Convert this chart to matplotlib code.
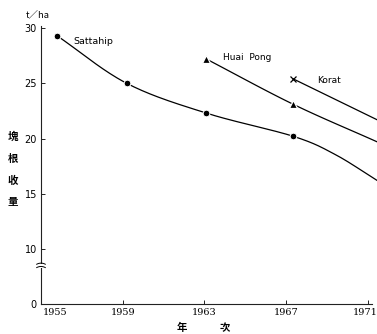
import numpy as np
import matplotlib
matplotlib.use("Agg")
import matplotlib.pyplot as plt
from matplotlib.patches import Rectangle
from matplotlib.transforms import ScaledTranslation

# measured yields (t/ha)
sattahip_years = [1955.8, 1959.2, 1963.1, 1967.35]
sattahip_yield = [29.3, 25.0, 22.3, 20.2]
huai_years = [1963.1, 1967.35]
huai_yield = [27.2, 23.1]
korat_years = [1967.35]
korat_yield = [25.4]

# fitted trend curves
sattahip_trend_years = [1955.8, 1959.2, 1963.1, 1967.35, 1969.4, 1971.45]
sattahip_trend_yield = [29.3, 25.0, 22.3, 20.2, 18.55, 16.2]
huai_trend_years = [1963.1, 1967.35, 1971.45]
huai_trend_yield = [27.2, 23.1, 19.7]
korat_trend_years = [1967.35, 1971.45]
korat_trend_yield = [25.4, 21.7]

year_ticks = [1955, 1959, 1963, 1967, 1971]
yield_ticks = [0, 10, 15, 20, 25, 30]


def smooth(xs, ys, n=30):
    """Catmull-Rom curve through the given points."""
    xs = np.asarray(xs, float)
    ys = np.asarray(ys, float)
    if len(xs) < 3:
        return xs, ys
    px = np.concatenate([[2 * xs[0] - xs[1]], xs, [2 * xs[-1] - xs[-2]]])
    py = np.concatenate([[2 * ys[0] - ys[1]], ys, [2 * ys[-1] - ys[-2]]])
    ox, oy = [], []
    t = np.linspace(0, 1, n, endpoint=False)
    for i in range(1, len(px) - 2):
        for arr, out in ((px, ox), (py, oy)):
            p0, p1, p2, p3 = arr[i - 1], arr[i], arr[i + 1], arr[i + 2]
            out.extend(0.5 * ((2 * p1) + (-p0 + p2) * t
                              + (2 * p0 - 5 * p1 + 4 * p2 - p3) * t ** 2
                              + (-p0 + 3 * p1 - 3 * p2 + p3) * t ** 3))
    ox.append(xs[-1])
    oy.append(ys[-1])
    return np.array(ox), np.array(oy)


# broken y axis: 0-10 compressed into half the height
def fwd(v):
    v = np.asarray(v, float)
    return np.where(v < 10, 5 + v / 2, v)


def inv(u):
    u = np.asarray(u, float)
    return np.where(u < 10, (u - 5) * 2, u)


fig = plt.figure(figsize=(3.77, 3.34), dpi=100)
ax = fig.add_axes([41 / 377, 30 / 334, 331 / 377, 278 / 334])
ax.set_yscale("function", functions=(fwd, inv))
ax.set_xlim(1955, 1971.2)
ax.set_ylim(0, 30.2)

for s in ("top", "right"):
    ax.spines[s].set_visible(False)
for s in ("left", "bottom"):
    ax.spines[s].set_linewidth(0.8)
    ax.spines[s].set_color("#222222")

ax.set_xticks(year_ticks)
ax.set_xticklabels([str(y) for y in year_ticks], fontfamily="DejaVu Serif", fontsize=7)
ax.set_yticks(yield_ticks)
ax.set_yticklabels([str(v) for v in yield_ticks], fontfamily="DejaVu Sans", fontsize=7)
ax.tick_params(axis="both", direction="in", length=3, width=0.7, color="#222222", pad=3)
ax.minorticks_off()

# nudge the end year labels clear of the axis corner and the figure edge
xlabels = ax.get_xticklabels()
xlabels[0].set_transform(xlabels[0].get_transform()
                         + ScaledTranslation(14 / 100, 0, fig.dpi_scale_trans))
xlabels[-1].set_transform(xlabels[-1].get_transform()
                          + ScaledTranslation(-3 / 100, 0, fig.dpi_scale_trans))

line_kw = dict(color="black", lw=0.9, clip_on=False, zorder=2)
for xs, ys in ((sattahip_trend_years, sattahip_trend_yield),
               (huai_trend_years, huai_trend_yield),
               (korat_trend_years, korat_trend_yield)):
    cx, cy = smooth(xs, ys)
    ax.plot(cx, cy, **line_kw)

ax.plot(sattahip_years, sattahip_yield, "o", color="black", ms=4.8,
        mec="white", mew=0.7, zorder=3, clip_on=False)
ax.plot(huai_years, huai_yield, "^", color="black", ms=5.2,
        mec="white", mew=0.9, zorder=3, clip_on=False)
ax.plot(korat_years, korat_yield, "x", color="black", ms=5, mew=0.9,
        zorder=3, clip_on=False)

ax.text(1956.6, 28.75, "Sattahip", fontsize=6.8, va="center", ha="left")
ax.text(1963.9, 27.3, "Huai  Pong", fontsize=6.5, va="center", ha="left")
ax.text(1968.5, 25.3, "Korat", fontsize=6.5, va="center", ha="left")

# axis break marks
ax.add_patch(Rectangle((-0.01, 0.131), 0.02, 0.012, transform=ax.transAxes,
                       facecolor="white", edgecolor="none", zorder=4, clip_on=False))
bx = np.linspace(-0.013, 0.013, 20)
for y0 in (0.143, 0.131):
    ax.plot(bx, y0 + 0.004 * (1 - (bx / 0.013) ** 2), transform=ax.transAxes,
            color="black", lw=0.7, zorder=5, clip_on=False)

fig.text(26 / 377, 1 - 16 / 334, "t／ha", fontsize=6.8, va="center", ha="left",
         family=["Noto Sans CJK SC", "DejaVu Sans"])
fig.text(13 / 377, 1 - 169.5 / 334, "塊\n根\n收\n量", fontsize=7.5, fontweight="bold",
         va="center", ha="center", linespacing=2.45, family=["Noto Sans CJK TC"])
fig.text(182 / 377, 1 - 328 / 334, "年", fontsize=7.5, fontweight="bold",
         va="center", ha="center", family=["Noto Sans CJK TC"])
fig.text(225 / 377, 1 - 328 / 334, "次", fontsize=7.5, fontweight="bold",
         va="center", ha="center", family=["Noto Sans CJK TC"])

fig.savefig("out.png", dpi=100)
